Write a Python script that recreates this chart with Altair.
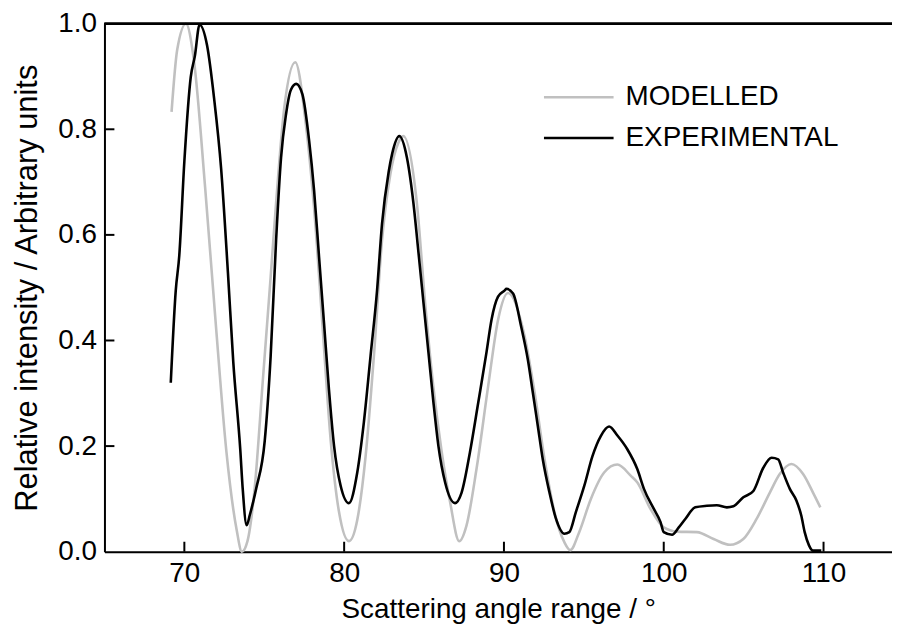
import altair as alt
import pandas as pd

# Modelled curve (grey)
mod_x = [69.2, 69.55, 70.1, 70.6, 71.3, 71.97, 72.63, 73.28, 73.6, 73.95, 74.4, 74.9, 75.4, 75.74,
         76.25, 76.94, 77.6, 78.12, 78.64, 79.16, 79.68, 80.3, 80.82, 81.34, 81.86, 82.37, 82.89,
         83.4, 83.7, 84.55, 85.07, 85.59, 86.1, 86.63, 87.2, 87.66, 88.28, 89.01, 89.63, 90.25,
         91.3, 91.92, 92.54, 93.16, 93.78, 94.15, 94.71, 95.44, 96.27, 97.1, 97.93, 98.35, 99.17,
         100.0, 100.83, 102.08, 103.12, 104.15, 104.98, 105.81, 106.64, 107.26, 107.99, 108.72,
         109.34, 109.8]
mod_y = [0.833, 0.95, 1.0, 0.93, 0.69, 0.43, 0.19, 0.04, 0.0, 0.02, 0.12, 0.32, 0.52, 0.66,
         0.84, 0.927, 0.81, 0.65, 0.43, 0.21, 0.075, 0.02, 0.06, 0.18, 0.37, 0.59, 0.715,
         0.775, 0.787, 0.66, 0.47, 0.31, 0.19, 0.094, 0.02, 0.05, 0.156, 0.313, 0.439, 0.49,
         0.407, 0.301, 0.175, 0.075, 0.018, 0.003, 0.037, 0.1, 0.15, 0.165, 0.144, 0.131, 0.081,
         0.046, 0.038, 0.037, 0.024, 0.013, 0.024, 0.062, 0.112, 0.147, 0.166, 0.147,
         0.112, 0.084]

# Experimental curve (black)
exp_x = [69.15, 69.46, 69.68, 70.0, 70.4, 70.66, 70.95, 71.42, 71.86, 72.3, 72.73, 73.06, 73.5,
         73.65, 73.9, 74.1, 74.5, 75.03, 75.4, 75.74, 76.05, 76.36, 76.67, 77.0, 77.39, 77.81,
         78.12, 78.43, 78.74, 79.05, 79.37, 79.78, 80.3, 80.82, 81.23, 81.65, 82.06, 82.37,
         82.79, 83.0, 83.45, 83.93, 84.34, 84.66, 84.97, 85.28, 85.59, 85.9, 86.32, 86.94,
         87.35, 87.87, 88.39, 88.9, 89.22, 89.63, 90.05, 90.15, 90.57, 91.08, 91.5, 91.81,
         92.12, 92.43, 92.85, 93.26, 93.78, 94.09, 94.5, 95.03, 95.54, 96.06, 96.58, 97.1,
         97.72, 98.35, 98.76, 99.38, 99.8, 100.0, 100.52, 100.94, 101.35, 101.97, 102.7,
         103.32, 103.95, 104.36, 104.98, 105.61, 106.23, 106.75, 107.16, 107.47, 107.89,
         108.3, 108.61, 108.82, 109.09, 109.34, 109.86]
exp_y = [0.32, 0.494, 0.56, 0.739, 0.899, 0.939, 0.998, 0.959, 0.859, 0.726, 0.527, 0.36, 0.193,
         0.12, 0.05, 0.07, 0.12, 0.21, 0.37, 0.589, 0.746, 0.828, 0.875, 0.886, 0.866, 0.778,
         0.684, 0.558, 0.433, 0.307, 0.2, 0.125, 0.092, 0.15, 0.244, 0.37, 0.495, 0.621,
         0.72, 0.753, 0.787, 0.746, 0.659, 0.564, 0.47, 0.376, 0.282, 0.2, 0.131, 0.092,
         0.112, 0.188, 0.282, 0.376, 0.439, 0.483, 0.495, 0.498, 0.489, 0.426, 0.363, 0.301,
         0.238, 0.175, 0.112, 0.062, 0.034, 0.037, 0.075, 0.125, 0.181, 0.219, 0.237, 0.22,
         0.194, 0.156, 0.119, 0.081, 0.056, 0.037, 0.032, 0.046, 0.062, 0.084, 0.087,
         0.088, 0.084, 0.086, 0.103, 0.115, 0.159, 0.178, 0.175, 0.15, 0.119,
         0.097, 0.068, 0.037, 0.012, 0.002, 0.002]

series = ["MODELLED", "EXPERIMENTAL"]
colors = ["#c0c0c0", "#000000"]
x_ticks = [70, 80, 90, 100, 110]
y_ticks = [0.0, 0.2, 0.4, 0.6, 0.8, 1.0]

W, H = 792, 531
PX_PER_DEG = 16.07
X0 = 65
FONT = "Liberation Sans"
FS = 28
LW = 2.6
TICK = 10

df = pd.concat([
    pd.DataFrame({"angle": mod_x, "intensity": mod_y, "series": series[0], "order": range(len(mod_x))}),
    pd.DataFrame({"angle": exp_x, "intensity": exp_y, "series": series[1], "order": range(len(exp_x))}),
])

xscale = alt.Scale(domain=[X0, X0 + W / PX_PER_DEG], nice=False, zero=False)
yscale = alt.Scale(domain=[0, 1], nice=False)

common = dict(grid=False, domainWidth=2, domainColor="black", labelColor="black",
              titleColor="black", tickSize=0, labelFont=FONT, titleFont=FONT,
              titleFontWeight="normal", labelFontSize=FS)

lines = alt.Chart(df).mark_line(interpolate="monotone", strokeWidth=LW).encode(
    x=alt.X("angle:Q", scale=xscale,
            axis=alt.Axis(title="Scattering angle range / °", values=x_ticks,
                          labelPadding=8, titlePadding=8, titleFontSize=FS, **common)),
    y=alt.Y("intensity:Q", scale=yscale,
            axis=alt.Axis(title="Relative intensity / Arbitrary units", values=y_ticks,
                          format=".1f", labelPadding=8, titlePadding=14, titleFontSize=31,
                          **common)),
    color=alt.Color("series:N", scale=alt.Scale(domain=series, range=colors), legend=None),
    order="order:Q",
    detail="series:N",
)

# inward tick marks (data-space ends so they go through the shared scales)
xt = pd.DataFrame({"angle": x_ticks, "intensity": [0.0] * len(x_ticks),
                   "intensity_end": [TICK / H] * len(x_ticks)})
yt = pd.DataFrame({"intensity": y_ticks[1:-1], "angle": [X0] * 4,
                   "angle_end": [X0 + TICK / PX_PER_DEG] * 4})
xticks = alt.Chart(xt).mark_rule(color="black", strokeWidth=2).encode(
    x="angle:Q", y="intensity:Q", y2="intensity_end:Q")
yticks = alt.Chart(yt).mark_rule(color="black", strokeWidth=2).encode(
    y="intensity:Q", x="angle:Q", x2="angle_end:Q")

# top frame line
top = alt.Chart(xt).mark_rule(color="black", strokeWidth=2).encode(
    x=alt.value(0), x2=alt.value(W), y=alt.value(0))

# legend (drawn in-plot)
leg_layers = []
for i, (name, col) in enumerate(zip(series, colors)):
    ld = pd.DataFrame({"label": [name]})
    yy = 74 + 41 * i
    leg_layers.append(alt.Chart(ld).mark_rule(color=col, strokeWidth=LW).encode(
        x=alt.value(442), x2=alt.value(512), y=alt.value(yy)))
    leg_layers.append(alt.Chart(ld).mark_text(
        align="left", baseline="middle", font=FONT, fontSize=FS, color="black").encode(
        text="label:N", x=alt.value(524), y=alt.value(yy)))

chart = alt.layer(lines, xticks, yticks, top, *leg_layers).properties(
    width=W, height=H,
    autosize=alt.AutoSizeParams(type="none"),
    padding={"left": 97, "top": 14, "right": 0, "bottom": 80},
).configure_view(stroke=None).configure(background="white")

chart.save("out.html", embed_options={"renderer": "svg", "actions": False})
